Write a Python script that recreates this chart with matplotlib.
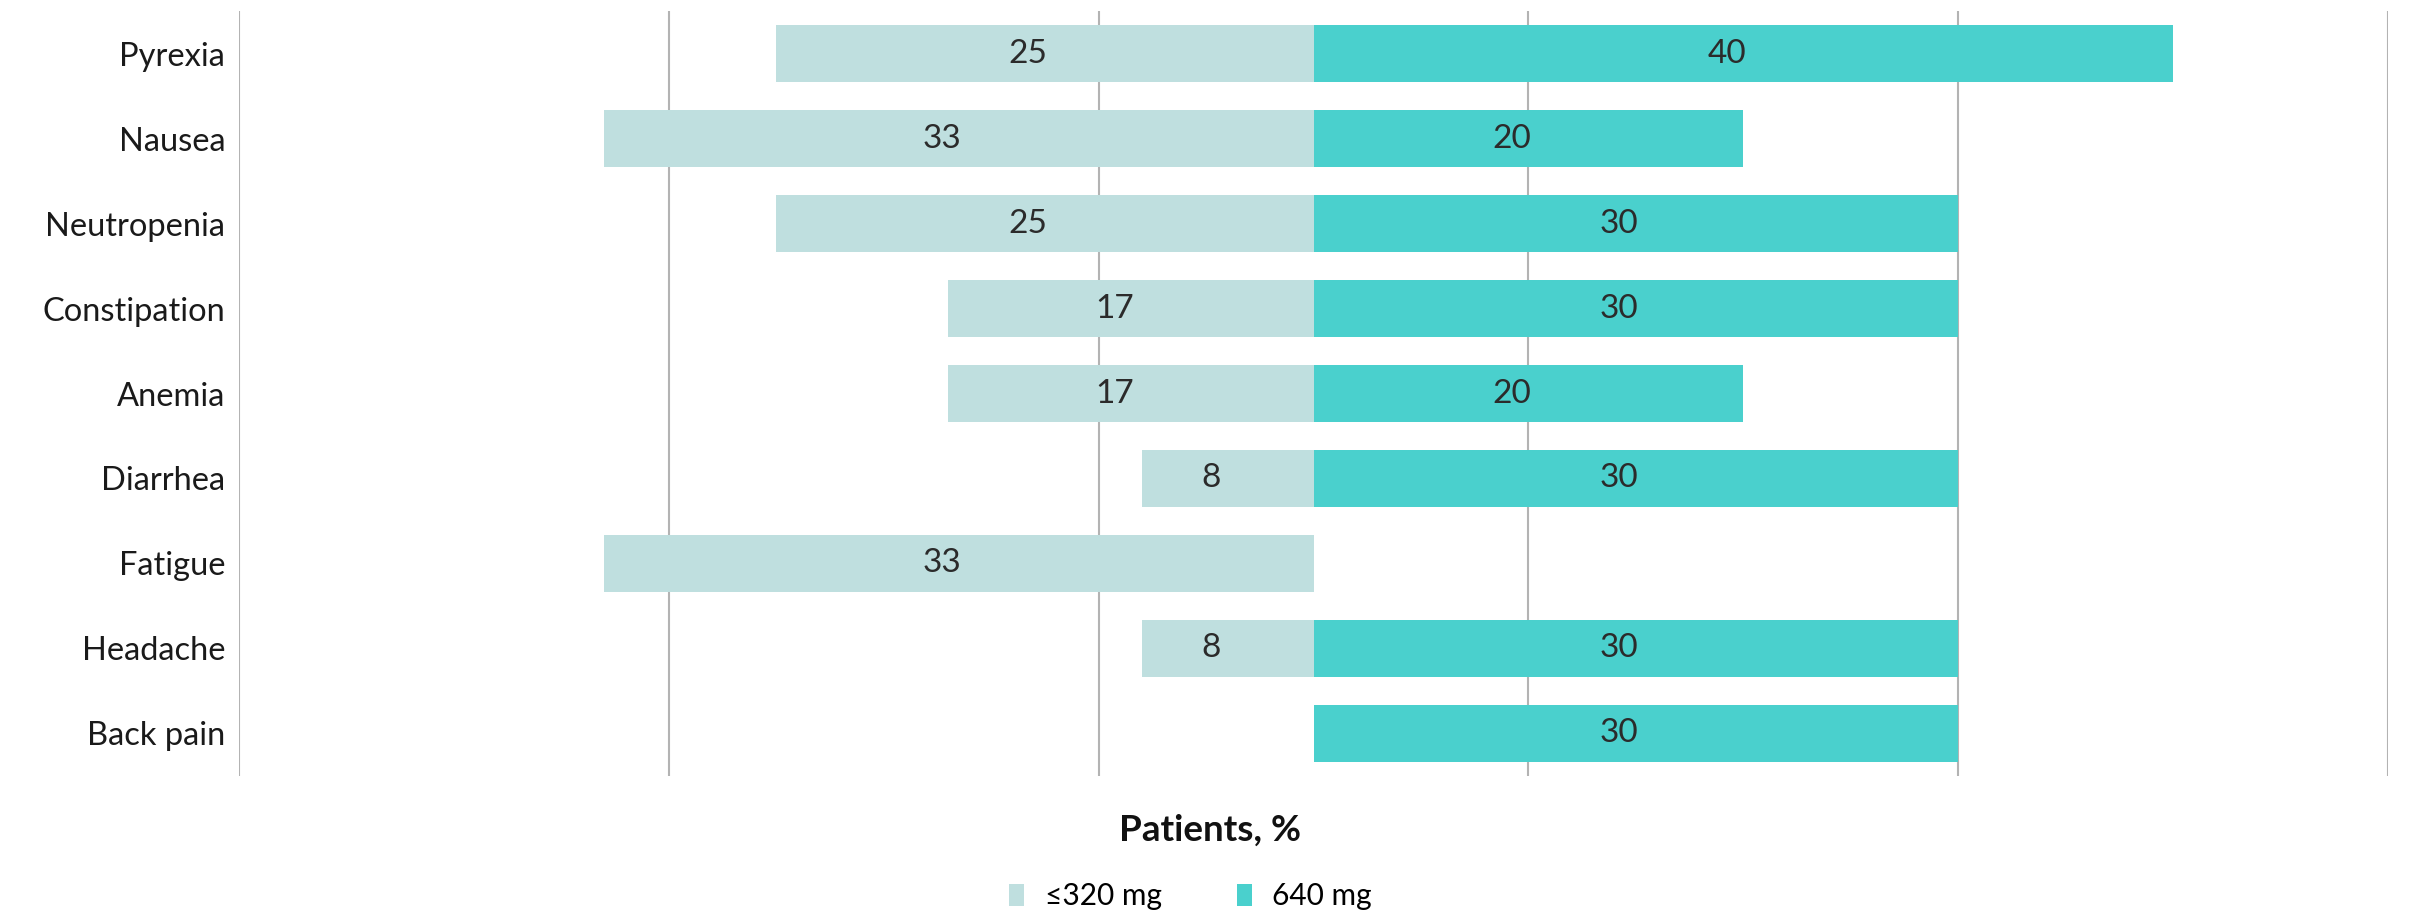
import matplotlib
matplotlib.use("Agg")
import matplotlib.pyplot as plt
from matplotlib.patches import Patch

categories = ["Pyrexia", "Nausea", "Neutropenia", "Constipation", "Anemia",
              "Diarrhea", "Fatigue", "Headache", "Back pain"]
low_dose = [25, 33, 25, 17, 17, 8, 33, 8, 0]     # ≤320 mg
high_dose = [40, 20, 30, 30, 20, 30, 0, 30, 30]  # 640 mg
series_labels = ["\u2264320 mg", "640 mg"]
grid_ticks = [-50, -30, -10, 10, 30, 50]

LIGHT = "#BFDFDF"
TEAL = "#4AD0CD"
plt.rcParams["font.family"] = ["Lato", "DejaVu Sans"]

fig = plt.figure(figsize=(24.2, 9.22), dpi=100)
ax = fig.add_axes([0.0988, 0.1584, 0.8880, 0.8296])

y = list(range(len(categories)))
ax.barh(y, [-v for v in low_dose], height=0.67, color=LIGHT, zorder=2)
ax.barh(y, high_dose, height=0.67, color=TEAL, zorder=2)

# value labels sit near the middle of each bar, nudged slightly left
label_kw = dict(textcoords="offset points", xytext=(-12, 0), ha="center",
                va="center", fontsize=24, color="#2b2b2b", zorder=3)
for i, (lo, hi) in enumerate(zip(low_dose, high_dose)):
    if lo:
        ax.annotate(str(lo), (-lo / 2, i), **label_kw)
    if hi:
        ax.annotate(str(hi), (hi / 2, i), **label_kw)

ax.set_xlim(-50, 50)
ax.set_ylim(len(categories) - 0.5, -0.5)
ax.set_xticks(grid_ticks)
ax.set_xticklabels([])
ax.tick_params(axis="x", length=0)
ax.set_yticks(y)
ax.set_yticklabels(categories, fontsize=23.5, color="#1a1a1a")
ax.tick_params(axis="y", length=0, pad=10)
ax.grid(axis="x", color="#b3b3b3", linewidth=1.5, zorder=0)
for s in ax.spines.values():
    s.set_visible(False)

fig.text(0.5, 0.1, "Patients, %", ha="center", va="center",
         fontsize=26.5, fontweight="bold", color="#111111")

handles = [Patch(facecolor=LIGHT, label=series_labels[0]),
           Patch(facecolor=TEAL, label=series_labels[1])]
fig.legend(handles=handles, loc="center", bbox_to_anchor=(0.492, 0.028),
           ncol=2, frameon=False, fontsize=21.5, handlelength=0.5,
           handleheight=0.75, handletextpad=0.7, columnspacing=2.5)

fig.savefig("out.png", dpi=100)
